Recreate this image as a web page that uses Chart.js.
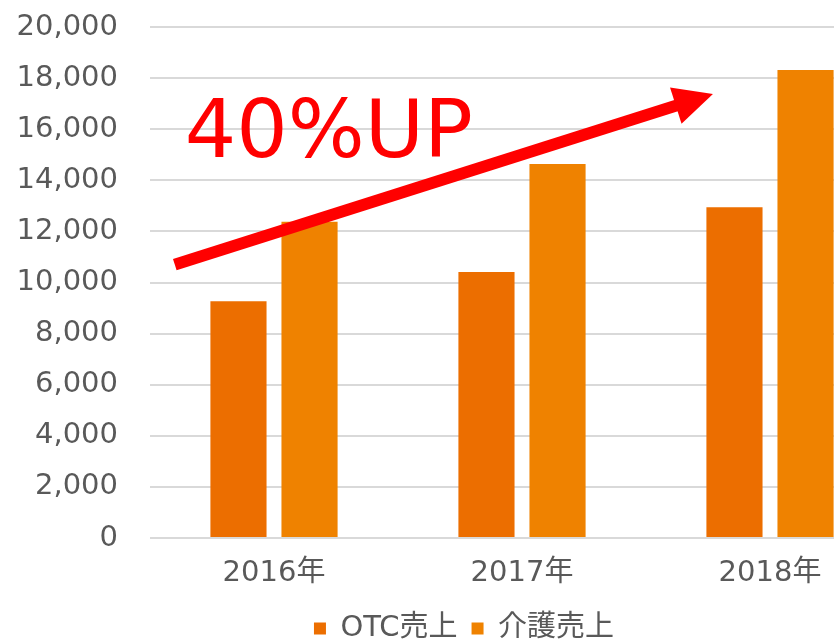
<!DOCTYPE html>
<html lang="ja">
  <head>
    <meta charset="UTF-8" />
    <title>売上推移</title>
    <script src="https://cdn.jsdelivr.net/npm/chart.js"></script>
    <style>
      body {
        margin: 0;
        background-color: #ffffff;
        overflow: hidden;
      }

      .chart-box {
        width: 928px;
        height: 653px;
      }
    </style>
  </head>
  <body>
    <div class="chart-box">
      <canvas id="salesChart"></canvas>
    </div>

    <script>
      const years = ["2016年", "2017年", "2018年"];
      const otcSales = [9270, 10410, 12950];
      const careSales = [12380, 14640, 18320];
      const yMin = 0;
      const yMax = 20000;
      const yStep = 2000;

      // arrow and label anchors in data units: [category index, value]
      const arrowFrom = [-0.4, 10700];
      const arrowTo = [1.77, 17380];
      const upText = "40%UP";
      const upTextAt = [-0.36, 14900];

      const fontFamily = "'DejaVu Sans', 'Noto Sans CJK JP', sans-serif";
      const textColor = "#595959";

      const upArrowPlugin = {
        id: "upArrow",
        afterDatasetsDraw(chart) {
          const { ctx } = chart;
          const xs = chart.scales.x;
          const ys = chart.scales.y;
          const x0 = xs.getPixelForValue(arrowFrom[0]);
          const y0 = ys.getPixelForValue(arrowFrom[1]);
          const x1 = xs.getPixelForValue(arrowTo[0]);
          const y1 = ys.getPixelForValue(arrowTo[1]);

          const len = Math.hypot(x1 - x0, y1 - y0);
          const ux = (x1 - x0) / len;
          const uy = (y1 - y0) / len;
          const headLen = 39;
          const headHalf = 19;
          const bx = x1 - ux * headLen;
          const by = y1 - uy * headLen;

          ctx.save();
          ctx.strokeStyle = "#ff0000";
          ctx.fillStyle = "#ff0000";
          ctx.lineWidth = 12;
          ctx.lineCap = "butt";
          ctx.beginPath();
          ctx.moveTo(x0, y0);
          ctx.lineTo(bx + ux * 2, by + uy * 2);
          ctx.stroke();

          ctx.beginPath();
          ctx.moveTo(x1, y1);
          ctx.lineTo(bx - uy * headHalf, by + ux * headHalf);
          ctx.lineTo(bx + uy * headHalf, by - ux * headHalf);
          ctx.closePath();
          ctx.fill();

          ctx.font = "81px " + fontFamily;
          ctx.textAlign = "left";
          ctx.textBaseline = "alphabetic";
          ctx.fillText(
            upText,
            xs.getPixelForValue(upTextAt[0]),
            ys.getPixelForValue(upTextAt[1])
          );
          ctx.restore();
        },
      };

      // the legend is centred a bit right of the canvas middle
      const legendShiftPlugin = {
        id: "legendShift",
        afterLayout(chart) {
          if (chart.legend) chart.legend.left = 34;
        },
      };

      new Chart(document.getElementById("salesChart"), {
        type: "bar",
        data: {
          labels: years,
          datasets: [
            {
              label: "OTC売上",
              data: otcSales,
              backgroundColor: "#ec6e00",
            },
            {
              label: "介護売上",
              data: careSales,
              backgroundColor: "#ef8200",
            },
          ],
        },
        options: {
          responsive: true,
          maintainAspectRatio: false,
          animation: false,
          categoryPercentage: 0.573,
          barPercentage: 0.79,
          layout: {
            padding: { top: 27, right: 34, bottom: 0, left: 0 },
          },
          plugins: {
            tooltip: { enabled: false },
            legend: {
              position: "bottom",
              labels: {
                boxWidth: 12,
                boxHeight: 12,
                padding: 14,
                color: textColor,
                font: { family: fontFamily, size: 29 },
              },
            },
          },
          scales: {
            x: {
              grid: { display: false },
              border: { display: false },
              ticks: {
                color: textColor,
                padding: 10,
                font: { family: fontFamily, size: 29 },
              },
              afterFit(scale) {
                scale.height = 62;
              },
            },
            y: {
              min: yMin,
              max: yMax,
              grid: {
                color: "#d9d9d9",
                lineWidth: 2,
                drawTicks: true,
                tickLength: 32,
                tickColor: "rgba(0,0,0,0)",
              },
              border: { display: false },
              ticks: {
                stepSize: yStep,
                padding: 0,
                color: textColor,
                font: { family: fontFamily, size: 29 },
                callback: (v) => v.toLocaleString("en-US"),
              },
              afterFit(scale) {
                scale.width = 150;
              },
            },
          },
        },
        plugins: [upArrowPlugin, legendShiftPlugin],
      });
    </script>
  </body>
</html>
